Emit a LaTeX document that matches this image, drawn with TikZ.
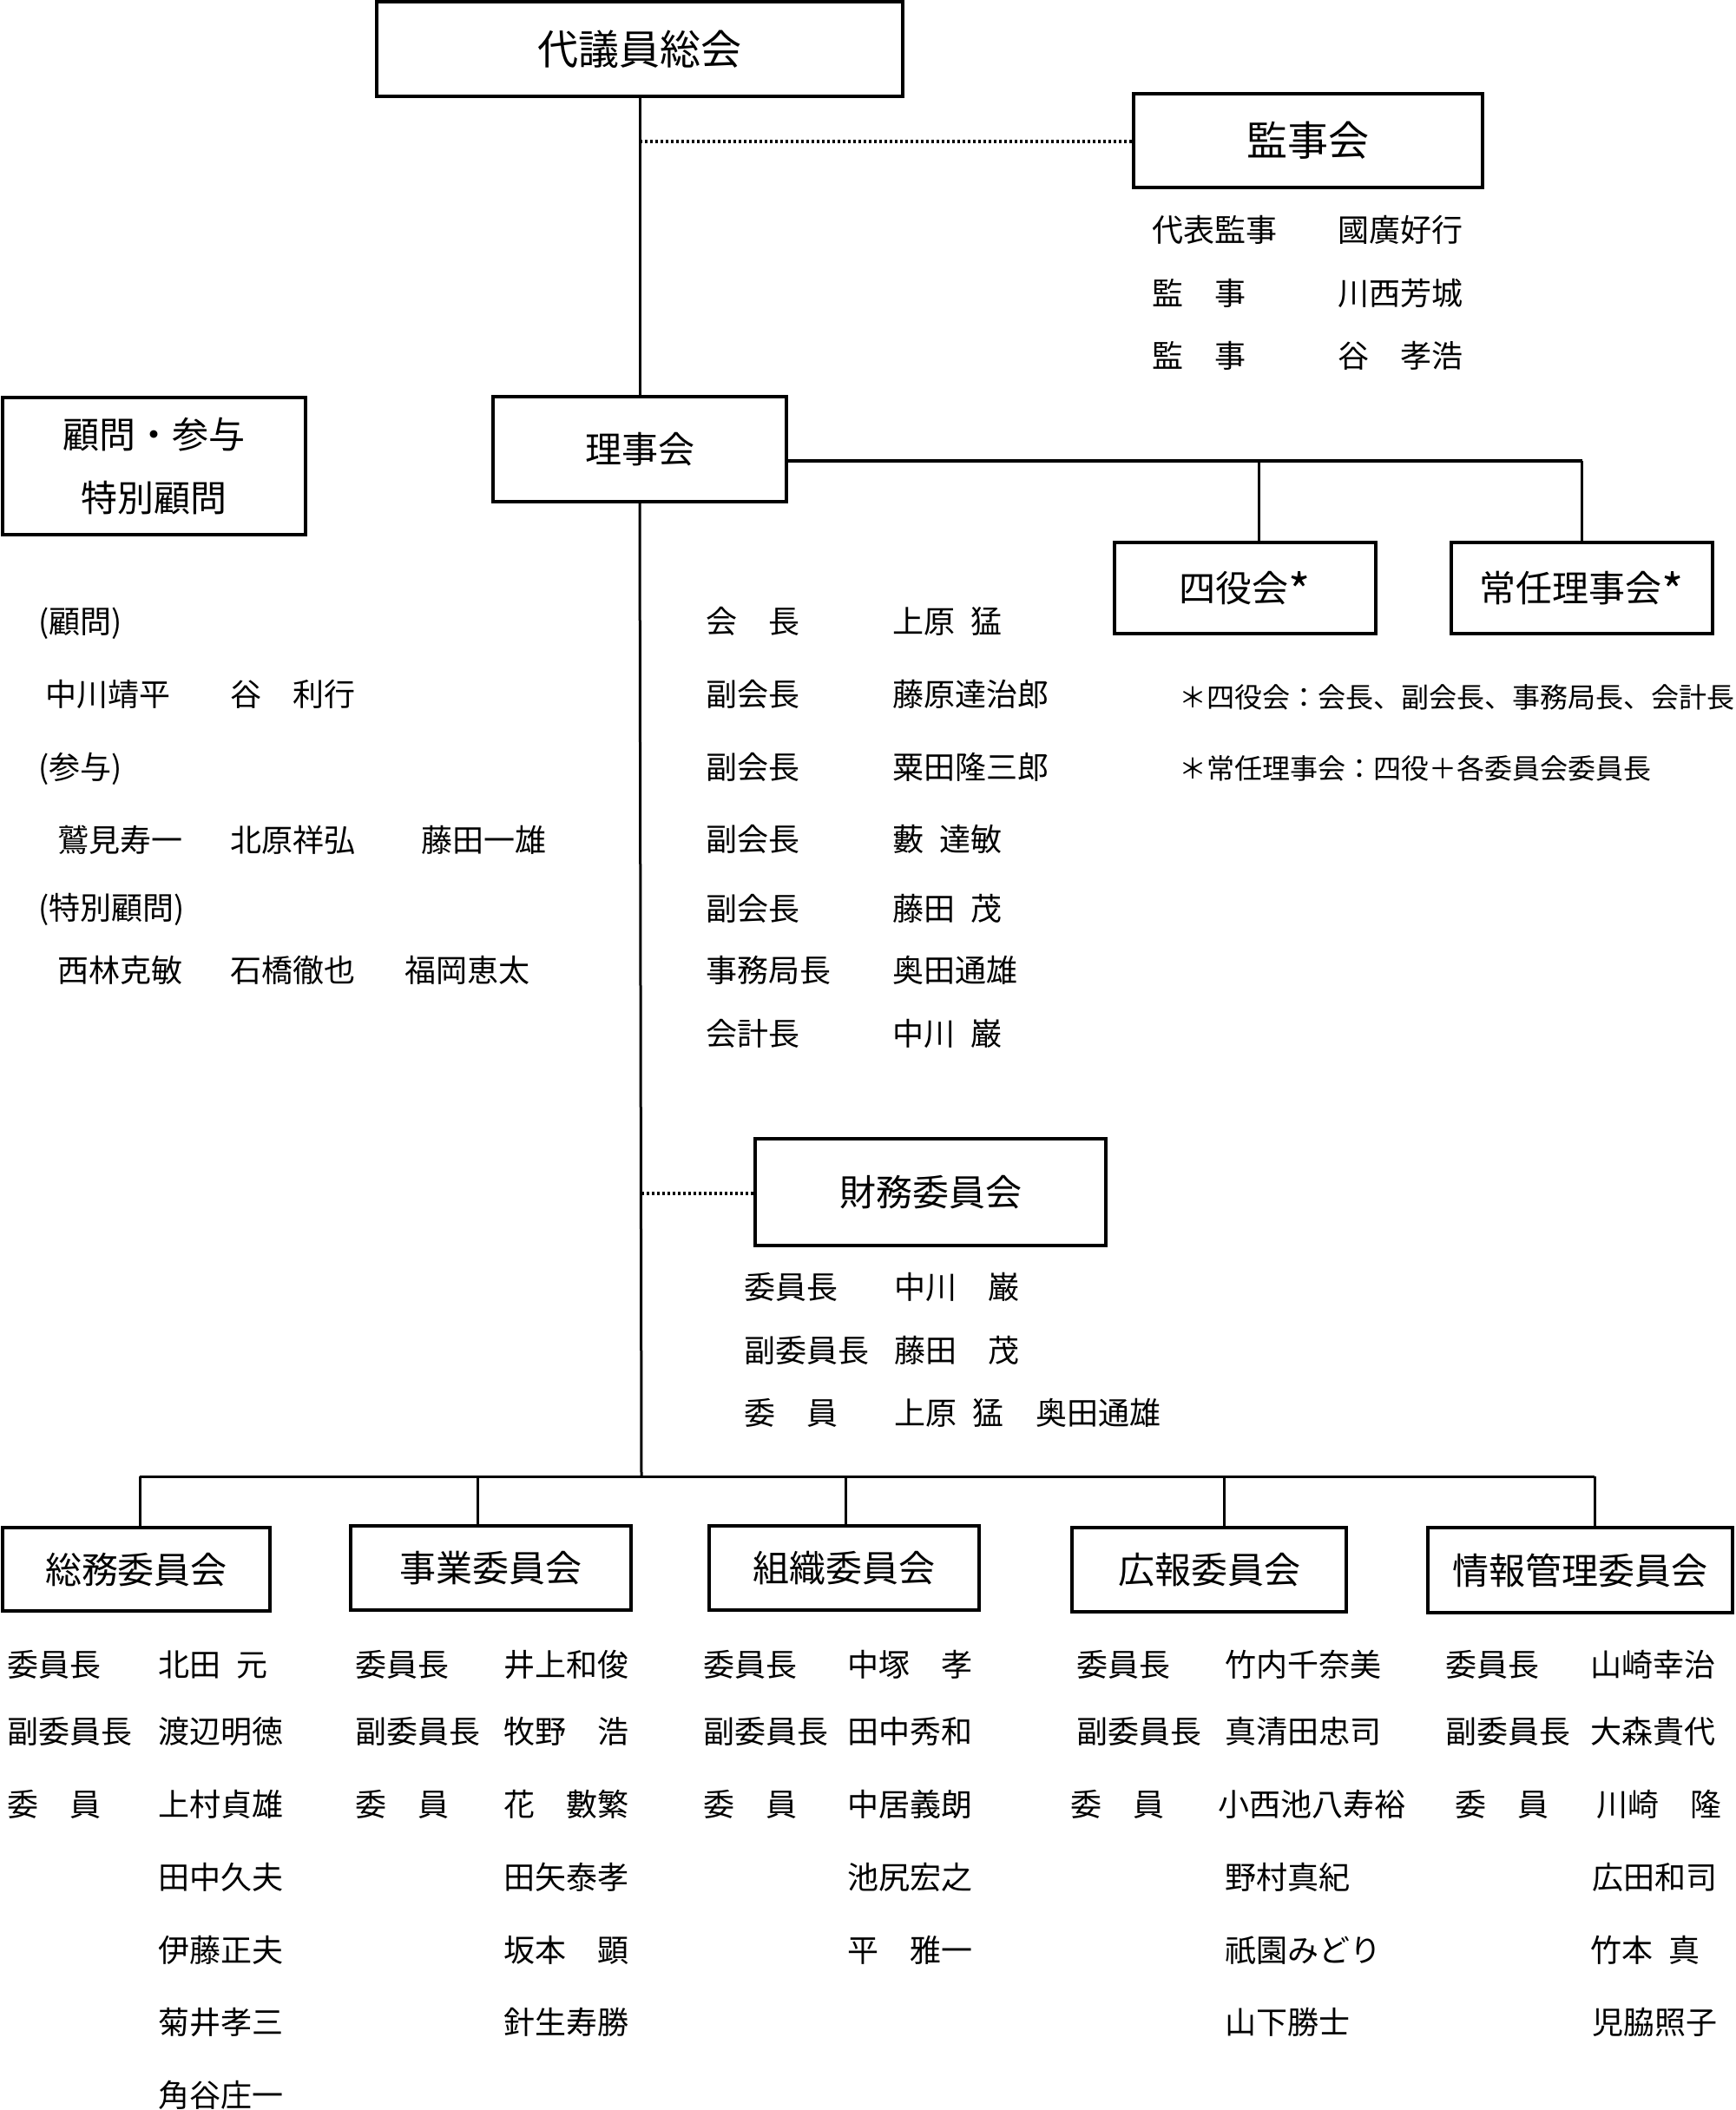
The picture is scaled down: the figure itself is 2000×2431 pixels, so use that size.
\documentclass[tikz,border=0pt]{standalone}
\usepackage{fontspec}
\setmainfont{Noto Sans CJK JP}
\newcommand{\bigast}{\raisebox{-4pt}{\fontsize{27}{27}\selectfont *}}
\begin{document}
\begin{tikzpicture}[x=0.5pt,y=-0.5pt,
  box/.style={draw, line width=1.75pt, inner sep=0pt, align=center},
  fbig/.style={font=\fontsize{23.5}{28}\selectfont, text height=20.7pt, text depth=2.8pt},
  ftitle/.style={font=\fontsize{21}{25}\selectfont, text height=18.5pt, text depth=2.5pt},
  lst/.style={anchor=west, inner sep=0pt, font=\fontsize{18}{20}\selectfont, text height=15.84pt, text depth=2.16pt},
  note/.style={anchor=west, inner sep=0pt, font=\fontsize{16}{18}\selectfont, text height=14.08pt, text depth=1.92pt},
  conn/.style={line width=1.5pt},
  thickconn/.style={line width=2pt},
  dots/.style={line width=2pt, dash pattern=on 1.6pt off 1.4pt}]
\useasboundingbox (0,0) rectangle (2000,2431);

% ---- boxes ----
\node[box, fbig, minimum width=303pt, minimum height=54.5pt] (gen) at (737,56.5) {代議員総会};
\node[box, fbig, minimum width=201pt, minimum height=54pt] (kanji) at (1507,162) {監事会};
\node[box, ftitle, minimum width=169pt, minimum height=60.5pt] (riji) at (737,517.5) {理事会};
\node[box, font=\fontsize{21}{36.5}\selectfont, minimum width=174.5pt, minimum height=79pt] (komon) at (177.5,537) {顧問・参与\\特別顧問};
\node[box, ftitle, minimum width=150.5pt, minimum height=52.5pt] (yon) at (1434.5,677.5) {四役会\bigast};
\node[box, ftitle, minimum width=150.5pt, minimum height=52.5pt] (jonin) at (1822.5,677.5) {常任理事会\bigast};
\node[box, ftitle, minimum width=202pt, minimum height=61.5pt] (zaimu) at (1072,1373.5) {財務委員会};
\node[box, ftitle, minimum width=154pt, minimum height=48pt] (somu) at (157,1808) {総務委員会};
\node[box, ftitle, minimum width=161.5pt, minimum height=48.5pt] (jigyo) at (565.5,1806.5) {事業委員会};
\node[box, ftitle, minimum width=155.5pt, minimum height=48.5pt] (soshiki) at (972.5,1806.5) {組織委員会};
\node[box, ftitle, minimum width=158pt, minimum height=48.5pt] (koho) at (1393,1808.5) {広報委員会};
\node[box, ftitle, minimum width=175.5pt, minimum height=49pt] (joho) at (1820.5,1809) {情報管理委員会};

% ---- connectors ----
\draw[conn] (gen.south) -- (riji.north);
\coordinate (kj) at (737,163);
\draw[dots] (kj) -- (kanji.west |- kj);

\coordinate (rh) at (906,531);
\coordinate (rhy) at (1450,531);
\coordinate (rhj) at (1822.5,531);
\draw[thickconn] (rh) -- (rhj);
\draw[conn] (rhy) -- (rhy |- yon.north);
\draw[conn] (rhj) -- (jonin.north);

\coordinate (tb) at (739,1701);
\draw[conn] (riji.south) -- (tb);
\coordinate (zd) at (739,1375);
\draw[dots] (zd) -- (zaimu.west |- zd);

\coordinate (b1) at (161,1701);
\coordinate (b2) at (550,1701);
\coordinate (b3) at (974,1701);
\coordinate (b4) at (1410,1701);
\coordinate (b5) at (1837,1701);
\draw[conn] (b1) -- (b5);
\draw[conn] (b1) -- (b1 |- somu.north);
\draw[conn] (b2) -- (b2 |- jigyo.north);
\draw[conn] (b3) -- (b3 |- soshiki.north);
\draw[conn] (b4) -- (b4 |- koho.north);
\draw[conn] (b5) -- (b5 |- joho.north);

% ---- auditors ----
\node[lst] (ka1) at (1327,265) {代表監事};
\node[lst] (kn1) at (1541,265) {國廣好行};
\node[lst] (ka2) at (1327,338) {監　事};
\node[lst] (kn2) at (1541,338) {川西芳城};
\node[lst] (ka3) at (1327,410) {監　事};
\node[lst] (kn3) at (1541,410) {谷　孝浩};

% ---- advisors ----
\node[lst] (ad1) at (44,716) {(顧問)};
\node[lst] (ad2) at (52,800) {中川靖平};
\node[lst] (ad3) at (265,800) {谷　利行};
\node[lst] (ad4) at (44,884) {(参与)};
\node[lst] (ad5) at (66,968) {鷲見寿一};
\node[lst] (ad6) at (265,968) {北原祥弘};
\node[lst] (ad7) at (485,968) {藤田一雄};
\node[lst] (ad8) at (44,1046) {(特別顧問)};
\node[lst] (ad9) at (66,1118) {西林克敏};
\node[lst] (ad10) at (265,1118) {石橋徹也};
\node[lst] (ad11) at (466,1118) {福岡恵太};

% ---- officers ----
\node[lst] (ol1) at (813,716) {会　長};
\node[lst] (on1) at (1028,716) {上原\hspace{0.5em}猛};
\node[lst] (ol2) at (813,800) {副会長};
\node[lst] (on2) at (1028,800) {藤原達治郎};
\node[lst] (ol3) at (813,884) {副会長};
\node[lst] (on3) at (1028,884) {粟田隆三郎};
\node[lst] (ol4) at (813,967) {副会長};
\node[lst] (on4) at (1028,967) {藪\hspace{0.5em}達敏};
\node[lst] (ol5) at (813,1047) {副会長};
\node[lst] (on5) at (1028,1047) {藤田\hspace{0.5em}茂};
\node[lst] (ol6) at (813,1118) {事務局長};
\node[lst] (on6) at (1028,1118) {奥田通雄};
\node[lst] (ol7) at (813,1191) {会計長};
\node[lst] (on7) at (1028,1191) {中川\hspace{0.5em}巌};

% ---- notes ----
\node[note] (nt1) at (1358,803) {＊四役会：会長、副会長、事務局長、会計長};
\node[note] (nt2) at (1358,885) {＊常任理事会：四役＋各委員会委員長};

% ---- finance ----
\node[lst] (zl1) at (857,1483) {委員長};
\node[lst] (zn1) at (1030,1483) {中川　巌};
\node[lst] (zl2) at (857,1556) {副委員長};
\node[lst] (zn2) at (1030,1556) {藤田　茂};
\node[lst] (zl3) at (857,1628) {委　員};
\node[lst] (zn3) at (1030,1628) {上原\hspace{0.5em}猛};
\node[lst] (zn4) at (1193,1628) {奥田通雄};

% ---- 総務 ----
\node[lst] (sl1) at (8,1918) {委員長};
\node[lst] (sn1) at (182,1918) {北田\hspace{0.5em}元};
\node[lst] (sl2) at (8,1995) {副委員長};
\node[lst] (sn2) at (182,1995) {渡辺明徳};
\node[lst] (sl3) at (8,2079) {委　員};
\node[lst] (sn3) at (182,2079) {上村貞雄};
\node[lst] (sn4) at (182,2163) {田中久夫};
\node[lst] (sn5) at (182,2247) {伊藤正夫};
\node[lst] (sn6) at (182,2330) {菊井孝三};
\node[lst] (sn7) at (182,2414) {角谷庄一};

% ---- 事業 ----
\node[lst] (jl1) at (409,1918) {委員長};
\node[lst] (jn1) at (580,1918) {井上和俊};
\node[lst] (jl2) at (409,1995) {副委員長};
\node[lst] (jn2) at (580,1995) {牧野　浩};
\node[lst] (jl3) at (409,2079) {委　員};
\node[lst] (jn3) at (580,2079) {花　數繁};
\node[lst] (jn4) at (580,2163) {田矢泰孝};
\node[lst] (jn5) at (580,2247) {坂本　顕};
\node[lst] (jn6) at (580,2330) {針生寿勝};

% ---- 組織 ----
\node[lst] (ol1b) at (810,1918) {委員長};
\node[lst] (on1b) at (976,1918) {中塚　孝};
\node[lst] (ol2b) at (810,1995) {副委員長};
\node[lst] (on2b) at (976,1995) {田中秀和};
\node[lst] (ol3b) at (810,2079) {委　員};
\node[lst] (on3b) at (976,2079) {中居義朗};
\node[lst] (on4b) at (976,2163) {池尻宏之};
\node[lst] (on5b) at (976,2247) {平　雅一};

% ---- 広報 ----
\node[lst] (kl1) at (1240,1918) {委員長};
\node[lst] (kn1b) at (1411,1918) {竹内千奈美};
\node[lst] (kl2) at (1240,1995) {副委員長};
\node[lst] (kn2b) at (1411,1995) {真清田忠司};
\node[lst] (kl3) at (1233,2079) {委　員};
\node[lst] (kn3b) at (1403,2079) {小西池八寿裕};
\node[lst] (kn4b) at (1411,2163) {野村真紀};
\node[lst] (kn5b) at (1411,2247) {祇園みどり};
\node[lst] (kn6b) at (1411,2330) {山下勝士};

% ---- 情報管理 ----
\node[lst] (hl1) at (1665,1918) {委員長};
\node[lst] (hn1) at (1832,1918) {山崎幸治};
\node[lst] (hl2) at (1665,1995) {副委員長};
\node[lst] (hn2) at (1832,1995) {大森貴代};
\node[lst] (hl3) at (1676,2079) {委　員};
\node[lst] (hn3) at (1839,2079) {川崎　隆};
\node[lst] (hn4) at (1834,2163) {広田和司};
\node[lst] (hn5) at (1832,2247) {竹本\hspace{0.5em}真};
\node[lst] (hn6) at (1834,2330) {児脇照子};
\end{tikzpicture}
\end{document}
